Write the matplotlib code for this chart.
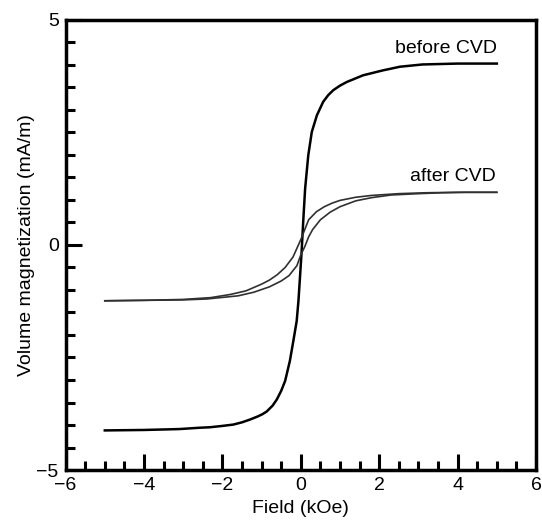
import matplotlib
matplotlib.use('Agg')
import matplotlib.pyplot as plt
from matplotlib.ticker import MultipleLocator

# ===== 读图得到的数据 (Field kOe, Volume magnetization mA/m) =====
before_H = [-5.0, -4.0, -3.1, -2.57, -2.32, -2.0, -1.72, -1.5, -1.3, -1.1, -0.98, -0.87,
            -0.72, -0.61, -0.5, -0.40, -0.28, -0.19, -0.105, -0.06, 0.02, 0.06, 0.11, 0.19,
            0.28, 0.41, 0.57, 0.70, 0.83, 1.0, 1.17, 1.59, 2.10, 2.53, 3.1, 4.0, 5.0]
before_M = [-4.12, -4.11, -4.09, -4.06, -4.05, -4.02, -3.99, -3.94, -3.88, -3.81, -3.76, -3.70,
            -3.57, -3.43, -3.24, -3.02, -2.58, -2.13, -1.69, -1.24, -0.16, 0.50, 1.25, 1.99,
            2.51, 2.88, 3.18, 3.33, 3.44, 3.54, 3.62, 3.77, 3.88, 3.96, 4.01, 4.03, 4.03]

# 降场分支 (偏上)
after_up_H = [-5.0, -4.0, -3.0, -2.3, -1.8, -1.4, -1.0, -0.8, -0.6, -0.4, -0.2, 0.0,
              0.2, 0.4, 0.6, 0.8, 1.0, 1.4, 1.8, 2.5, 3.2, 4.0, 5.0]
after_up_M = [-1.24, -1.23, -1.21, -1.17, -1.10, -1.02, -0.87, -0.78, -0.66, -0.50, -0.27, 0.12,
              0.56, 0.74, 0.85, 0.93, 0.99, 1.06, 1.10, 1.14, 1.16, 1.17, 1.17]

# 升场分支 (偏下)
after_dn_H = [-5.0, -4.0, -3.0, -2.4, -1.6, -1.2, -0.8, -0.5, -0.3, -0.1, 0.0, 0.1,
              0.2, 0.3, 0.5, 0.75, 1.0, 1.4, 1.8, 2.3, 3.0, 3.6, 4.2, 5.0]
after_dn_M = [-1.24, -1.23, -1.22, -1.20, -1.13, -1.05, -0.93, -0.80, -0.68, -0.46, -0.22, -0.04,
              0.18, 0.34, 0.56, 0.73, 0.85, 0.98, 1.05, 1.11, 1.14, 1.16, 1.17, 1.17]

x_ticks = [-6, -4, -2, 0, 2, 4, 6]
y_ticks = [-5, 0, 5]

plt.rcParams['font.family'] = ['Liberation Sans', 'DejaVu Sans']

fig = plt.figure(figsize=(5.42, 5.24), dpi=100)
ax = fig.add_axes([0.121, 0.103, 0.868, 0.859])

ax.plot(before_H, before_M, color='black', linewidth=1.8, solid_joinstyle='round')
ax.plot(after_up_H, after_up_M, color='#303030', linewidth=1.2, solid_joinstyle='round')
ax.plot(after_dn_H, after_dn_M, color='#303030', linewidth=1.2, solid_joinstyle='round')

ax.text(5.0, 4.26, 'before CVD', ha='right', va='baseline', fontsize=14)
ax.text(4.97, 1.43, 'after CVD', ha='right', va='baseline', fontsize=14)

ax.set_xlim(-6, 6)
ax.set_ylim(-5, 5)
ax.set_xticks(x_ticks)
ax.set_yticks(y_ticks)
ax.xaxis.set_minor_locator(MultipleLocator(0.5))
ax.yaxis.set_minor_locator(MultipleLocator(0.5))

ax.tick_params(which='both', direction='in', top=False, right=False, width=2.2,
               labelsize=14)
ax.tick_params(which='major', length=11.5, pad=5)
ax.tick_params(which='minor', length=6.5)

for sp in ax.spines.values():
    sp.set_linewidth(2.5)

ax.set_xlabel('Field (kOe)', fontsize=14, labelpad=4)
ax.set_ylabel('Volume magnetization (mA/m)', fontsize=14, labelpad=1)

fig.savefig('out.png', dpi=100)
